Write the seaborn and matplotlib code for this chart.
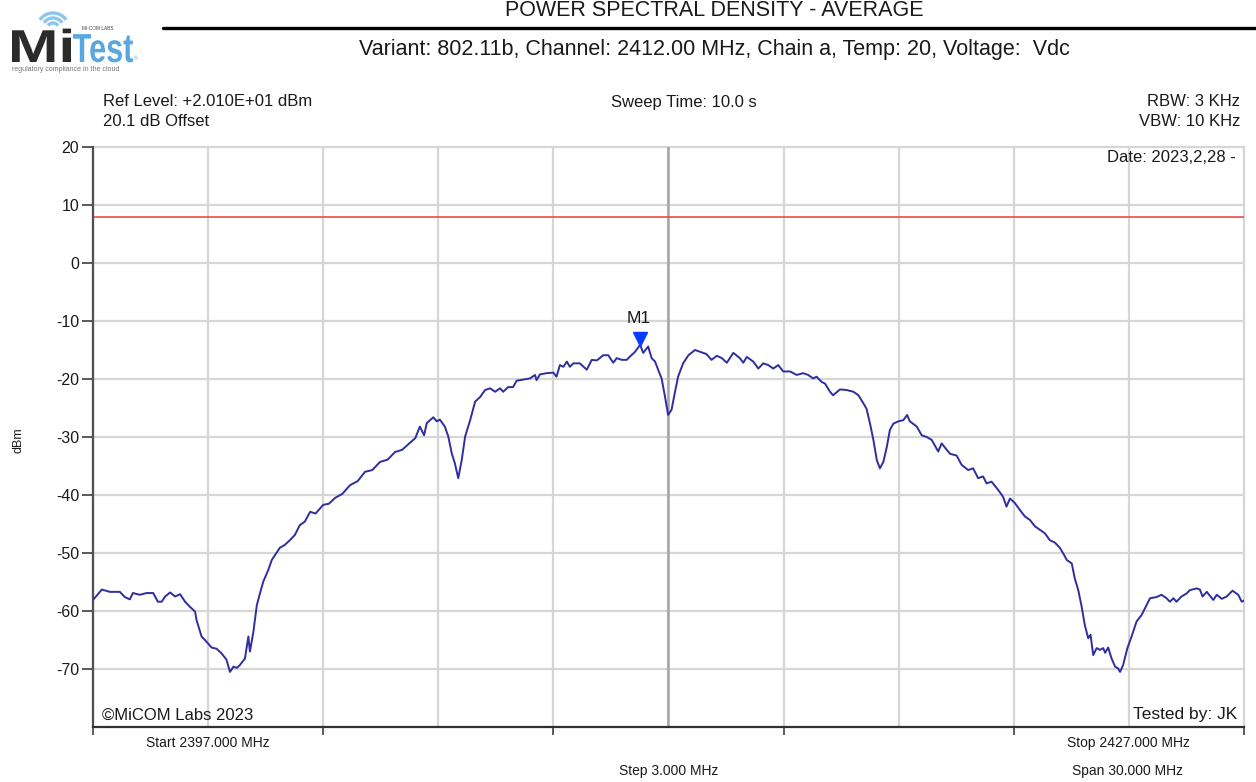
import matplotlib
matplotlib.use("Agg")
import matplotlib.pyplot as plt
import matplotlib.transforms as mtransforms
from matplotlib.patches import Arc, PathPatch
from matplotlib.textpath import TextPath
from matplotlib.font_manager import FontProperties
import numpy as np
import pandas as pd
import seaborn as sns

# ---- measurement data -------------------------------------------------------
start_mhz, stop_mhz = 2397.0, 2427.0
center_mhz = 2412.0
step_mhz = 3.0
limit_dbm = 8.0
y_ticks = [-70, -60, -50, -40, -30, -20, -10, 0, 10, 20]

freq_mhz = [
    2397.00, 2397.23, 2397.44, 2397.70, 2397.83, 2397.96, 2398.04, 2398.22, 2398.40, 2398.57,
    2398.69, 2398.79, 2398.88, 2399.01, 2399.14, 2399.27, 2399.40, 2399.53, 2399.66, 2399.70,
    2399.83, 2399.96, 2400.09, 2400.22, 2400.35, 2400.48, 2400.57, 2400.66, 2400.75, 2400.83,
    2400.96, 2401.05, 2401.09, 2401.18, 2401.27, 2401.35, 2401.44, 2401.57, 2401.66, 2401.87,
    2402.00, 2402.13, 2402.26, 2402.39, 2402.52, 2402.66, 2402.80, 2403.00, 2403.15, 2403.31,
    2403.50, 2403.70, 2403.90, 2404.09, 2404.28, 2404.48, 2404.68, 2404.87, 2405.06, 2405.26,
    2405.40, 2405.52, 2405.63, 2405.70, 2405.87, 2405.96, 2406.04, 2406.17, 2406.26, 2406.35,
    2406.43, 2406.52, 2406.61, 2406.70, 2406.83, 2406.96, 2407.09, 2407.22, 2407.35, 2407.48,
    2407.61, 2407.69, 2407.82, 2407.95, 2408.04, 2408.21, 2408.39, 2408.52, 2408.56, 2408.65,
    2408.82, 2409.00, 2409.08, 2409.17, 2409.26, 2409.35, 2409.43, 2409.52, 2409.69, 2409.87,
    2410.00, 2410.13, 2410.30, 2410.43, 2410.56, 2410.65, 2410.78, 2410.91, 2411.00, 2411.13,
    2411.26, 2411.34, 2411.47, 2411.56, 2411.65, 2411.73, 2411.82, 2411.91, 2411.99, 2412.08,
    2412.17, 2412.25, 2412.38, 2412.52, 2412.69, 2412.82, 2412.99, 2413.12, 2413.26, 2413.39,
    2413.52, 2413.69, 2413.86, 2413.95, 2414.04, 2414.21, 2414.34, 2414.47, 2414.60, 2414.73,
    2414.86, 2414.99, 2415.17, 2415.34, 2415.51, 2415.64, 2415.77, 2415.86, 2415.99, 2416.08,
    2416.21, 2416.29, 2416.47, 2416.64, 2416.82, 2416.95, 2417.08, 2417.16, 2417.25, 2417.34,
    2417.43, 2417.51, 2417.60, 2417.69, 2417.77, 2417.86, 2417.99, 2418.12, 2418.22, 2418.29,
    2418.47, 2418.60, 2418.73, 2418.86, 2419.03, 2419.12, 2419.25, 2419.34, 2419.51, 2419.64,
    2419.81, 2419.94, 2420.07, 2420.20, 2420.29, 2420.42, 2420.59, 2420.72, 2420.81, 2420.90,
    2421.03, 2421.16, 2421.29, 2421.42, 2421.55, 2421.68, 2421.81, 2421.94, 2422.07, 2422.20,
    2422.30, 2422.38, 2422.51, 2422.59, 2422.68, 2422.77, 2422.85, 2422.94, 2423.00, 2423.07,
    2423.16, 2423.25, 2423.33, 2423.38, 2423.46, 2423.55, 2423.64, 2423.72, 2423.77, 2423.85,
    2423.96, 2424.07, 2424.20, 2424.33, 2424.42, 2424.55, 2424.72, 2424.85, 2424.98, 2425.07,
    2425.16, 2425.24, 2425.37, 2425.50, 2425.59, 2425.77, 2425.85, 2425.92, 2426.03, 2426.20,
    2426.29, 2426.42, 2426.55, 2426.70, 2426.85, 2426.94, 2427.00,
]

level_dbm = [
    -58.1, -56.3, -56.7, -56.7, -57.6, -58.0, -56.9, -57.2, -56.9, -56.9,
    -58.4, -58.4, -57.5, -56.8, -57.5, -57.1, -58.4, -59.3, -60.1, -61.6,
    -64.4, -65.3, -66.3, -66.5, -67.3, -68.4, -70.5, -69.6, -69.8, -69.3,
    -68.2, -64.4, -67.0, -63.6, -59.0, -57.0, -54.9, -52.9, -51.2, -49.1,
    -48.6, -47.8, -46.9, -45.2, -44.6, -42.9, -43.2, -41.7, -41.5, -40.5,
    -39.8, -38.3, -37.6, -36.0, -35.7, -34.3, -33.9, -32.6, -32.2, -31.0,
    -30.2, -28.2, -29.7, -27.6, -26.6, -27.3, -27.0, -28.2, -29.9, -32.8,
    -34.5, -37.1, -34.0, -29.9, -27.1, -23.9, -23.1, -21.9, -21.6, -22.2,
    -21.6, -22.2, -21.4, -21.4, -20.3, -20.1, -19.9, -19.3, -20.2, -19.2,
    -19.0, -18.9, -19.6, -17.6, -17.9, -17.0, -17.9, -17.3, -17.3, -18.4,
    -16.7, -16.8, -15.9, -15.9, -17.2, -16.4, -16.7, -16.7, -16.1, -15.3,
    -14.1, -15.5, -14.4, -16.4, -17.0, -18.4, -19.9, -23.1, -26.2, -25.3,
    -22.2, -19.6, -17.3, -15.9, -15.0, -15.3, -15.7, -16.7, -16.0, -16.4,
    -17.2, -15.5, -16.4, -17.2, -16.2, -17.0, -18.2, -17.3, -17.6, -18.2,
    -17.6, -18.7, -18.7, -19.3, -19.0, -19.3, -19.9, -19.6, -20.5, -20.8,
    -22.2, -22.8, -21.8, -21.9, -22.2, -22.8, -24.2, -25.1, -27.6, -30.5,
    -34.0, -35.4, -34.3, -31.7, -28.8, -27.7, -27.3, -27.1, -26.2, -27.3,
    -28.2, -29.7, -30.0, -30.5, -32.5, -31.1, -32.2, -32.9, -33.2, -34.8,
    -35.7, -35.4, -37.1, -36.8, -38.0, -37.7, -39.1, -40.3, -42.0, -40.6,
    -41.4, -42.6, -43.7, -44.3, -45.4, -46.0, -46.6, -47.8, -48.2, -49.1,
    -50.2, -51.2, -51.8, -54.4, -56.4, -59.3, -62.4, -64.7, -64.1, -67.6,
    -66.4, -66.7, -66.4, -67.2, -66.3, -68.2, -69.6, -69.9, -70.5, -69.3,
    -66.4, -64.4, -61.8, -60.7, -59.5, -57.8, -57.6, -57.2, -57.8, -58.4,
    -57.8, -58.4, -57.5, -57.0, -56.4, -56.1, -56.3, -57.5, -56.7, -58.1,
    -57.2, -57.9, -57.5, -56.5, -57.2, -58.4, -58.2,
]

m1_freq = 2411.26
m1_level = -14.1

# ---- styling ---------------------------------------------------------------
TRACE = "#2e2e9e"
GRID = "#d6d6d6"
CENTER = "#a6a6a6"
LIMIT = "#ee4a4a"
MARKER = "#0a3cff"
TEXT = "#1a1a1a"

sns.set_theme(style="white")
plt.rcParams["font.family"] = ["Liberation Sans", "DejaVu Sans"]

W, H = 1256, 782
fig = plt.figure(figsize=(W / 100, H / 100), dpi=100)


def fx(px):
    return px / W


def fy(py):
    return 1 - py / H


def logo_word(ax, s, x, baseline, cap_h, width, weight, color):
    """Draw a word as a filled outline fitted to a given cap height and width."""
    fp = FontProperties(family="Liberation Sans", weight=weight)
    tp = TextPath((0, 0), s, size=100, prop=fp)
    bb = tp.get_extents()
    tr = (mtransforms.Affine2D()
          .translate(-bb.x0, 0)
          .scale(width / bb.width, -cap_h / 71.6)
          .translate(x, baseline))
    ax.add_patch(PathPatch(tr.transform_path(tp), facecolor=color, lw=0))


# ---- logo ------------------------------------------------------------------
lax = fig.add_axes([0, fy(78), fx(150), 78 / H])
lax.set_xlim(0, 150)
lax.set_ylim(78, 0)
lax.set_aspect("equal")
lax.axis("off")
for r in (6, 11, 16):
    lax.add_patch(Arc((53, 29), 2 * r, 2 * r, theta1=215, theta2=325,
                      color="#8cc6ee", lw=2.4))
logo_word(lax, "Mi", 12, 62, 33, 59, "bold", "#2b2b2b")
logo_word(lax, "Test", 73, 62, 29, 60, "bold", "#5aa6e0")
lax.text(134, 60, "\u00ae", fontsize=3.5, color="#5aa6e0", va="baseline")
lax.text(82, 30.5, "MI-COM LABS", fontsize=3.4, color="#444444", va="baseline")
lax.text(12, 71, "regulatory compliance in the cloud", fontsize=5.0, color="#777777",
         va="baseline")

# header rule and titles
fig.add_artist(plt.Line2D([fx(163), fx(1256)], [fy(28), fy(28)], color="black", lw=2.4))
fig.text(fx(714), fy(10), "POWER SPECTRAL DENSITY - AVERAGE", ha="center", va="center",
         fontsize=15.5, color=TEXT)
fig.text(fx(714), fy(49),
         "Variant: 802.11b, Channel: 2412.00 MHz, Chain a, Temp: 20, Voltage:  Vdc",
         ha="center", va="center", fontsize=15.5, color=TEXT)

# instrument settings
fig.text(fx(103), fy(101), "Ref Level: +2.010E+01 dBm", ha="left", va="center",
         fontsize=12, color=TEXT)
fig.text(fx(103), fy(121), "20.1 dB Offset", ha="left", va="center", fontsize=12, color=TEXT)
fig.text(fx(684), fy(103), "Sweep Time: 10.0 s", ha="center", va="center", fontsize=12,
         color=TEXT)
fig.text(fx(1240), fy(101), "RBW: 3 KHz", ha="right", va="center", fontsize=12, color=TEXT)
fig.text(fx(1240), fy(121), "VBW: 10 KHz", ha="right", va="center", fontsize=12, color=TEXT)

# ---- spectrum axes ---------------------------------------------------------
ax = fig.add_axes([fx(93), fy(727), (1244 - 93) / W, (727 - 147) / H])
ax.set_facecolor("white")

x_grid = np.arange(start_mhz, stop_mhz + 0.01, step_mhz)
for xv in x_grid:
    ax.axvline(xv, color=GRID, lw=1.6, zorder=0, clip_on=False)
for yv in y_ticks:
    ax.axhline(yv, color=GRID, lw=1.6, zorder=0, clip_on=False)
ax.axvline(center_mhz, color=CENTER, lw=1.8, zorder=0.5)

ax.axhline(limit_dbm, color=LIMIT, lw=1.2, zorder=1)

df = pd.DataFrame({"Frequency (MHz)": freq_mhz, "Level (dBm)": level_dbm})
sns.lineplot(data=df, x="Frequency (MHz)", y="Level (dBm)", ax=ax, color=TRACE,
             lw=1.4, estimator=None, sort=False, zorder=3)

# marker M1
mk_tr = mtransforms.offset_copy(ax.transData, fig=fig, x=0, y=6, units="dots")
ax.plot([m1_freq], [m1_level], marker="v", ms=10, color=MARKER, transform=mk_tr,
        zorder=4, clip_on=False)
ax.annotate("M1", (m1_freq, m1_level), xytext=(-1, 26), textcoords="offset pixels",
            ha="center", va="center", fontsize=12.5, color=TEXT)

ax.set_xlim(start_mhz, stop_mhz)
ax.set_ylim(-80, 20)
ax.set_xticks(np.arange(start_mhz, stop_mhz + 0.01, 2 * step_mhz))
ax.set_xticklabels([])
ax.set_yticks(y_ticks)
ax.set_yticklabels([str(v) for v in y_ticks])
ax.tick_params(axis="y", direction="out", length=8, width=1.2, color="#404040",
               labelsize=11.5, labelcolor=TEXT, pad=2, left=True)
ax.tick_params(axis="x", direction="out", length=6, width=1.2, color="#404040",
               bottom=True)
ax.set_xlabel("")
ax.set_ylabel("")
for side in ["top", "right"]:
    ax.spines[side].set_visible(False)
ax.spines["left"].set_color("#505050")
ax.spines["left"].set_linewidth(1.6)
ax.spines["bottom"].set_color("#303030")
ax.spines["bottom"].set_linewidth(1.6)

fig.text(fx(18), fy(440), "dBm", rotation=90, ha="center", va="center", fontsize=9,
         color=TEXT)

# annotations inside the plot
fig.text(fx(1236), fy(157), "Date: 2023,2,28 -", ha="right", va="center", fontsize=12,
         color=TEXT)
fig.text(fx(102), fy(715), "\u00a9MiCOM Labs 2023", ha="left", va="center", fontsize=12,
         color=TEXT)
fig.text(fx(1237), fy(715), "Tested by: JK", ha="right", va="center", fontsize=12.5,
         color=TEXT)

# sweep summary under the axis
fig.text(fx(208), fy(743), "Start 2397.000 MHz", ha="center", va="center", fontsize=10,
         color=TEXT)
fig.text(fx(1128), fy(743), "Stop 2427.000 MHz", ha="center", va="center", fontsize=10,
         color=TEXT)
fig.text(fx(669), fy(771), "Step 3.000 MHz", ha="center", va="center", fontsize=10,
         color=TEXT)
fig.text(fx(1128), fy(771), "Span 30.000 MHz", ha="center", va="center", fontsize=10,
         color=TEXT)

fig.savefig("out.png", dpi=100, facecolor="white")
